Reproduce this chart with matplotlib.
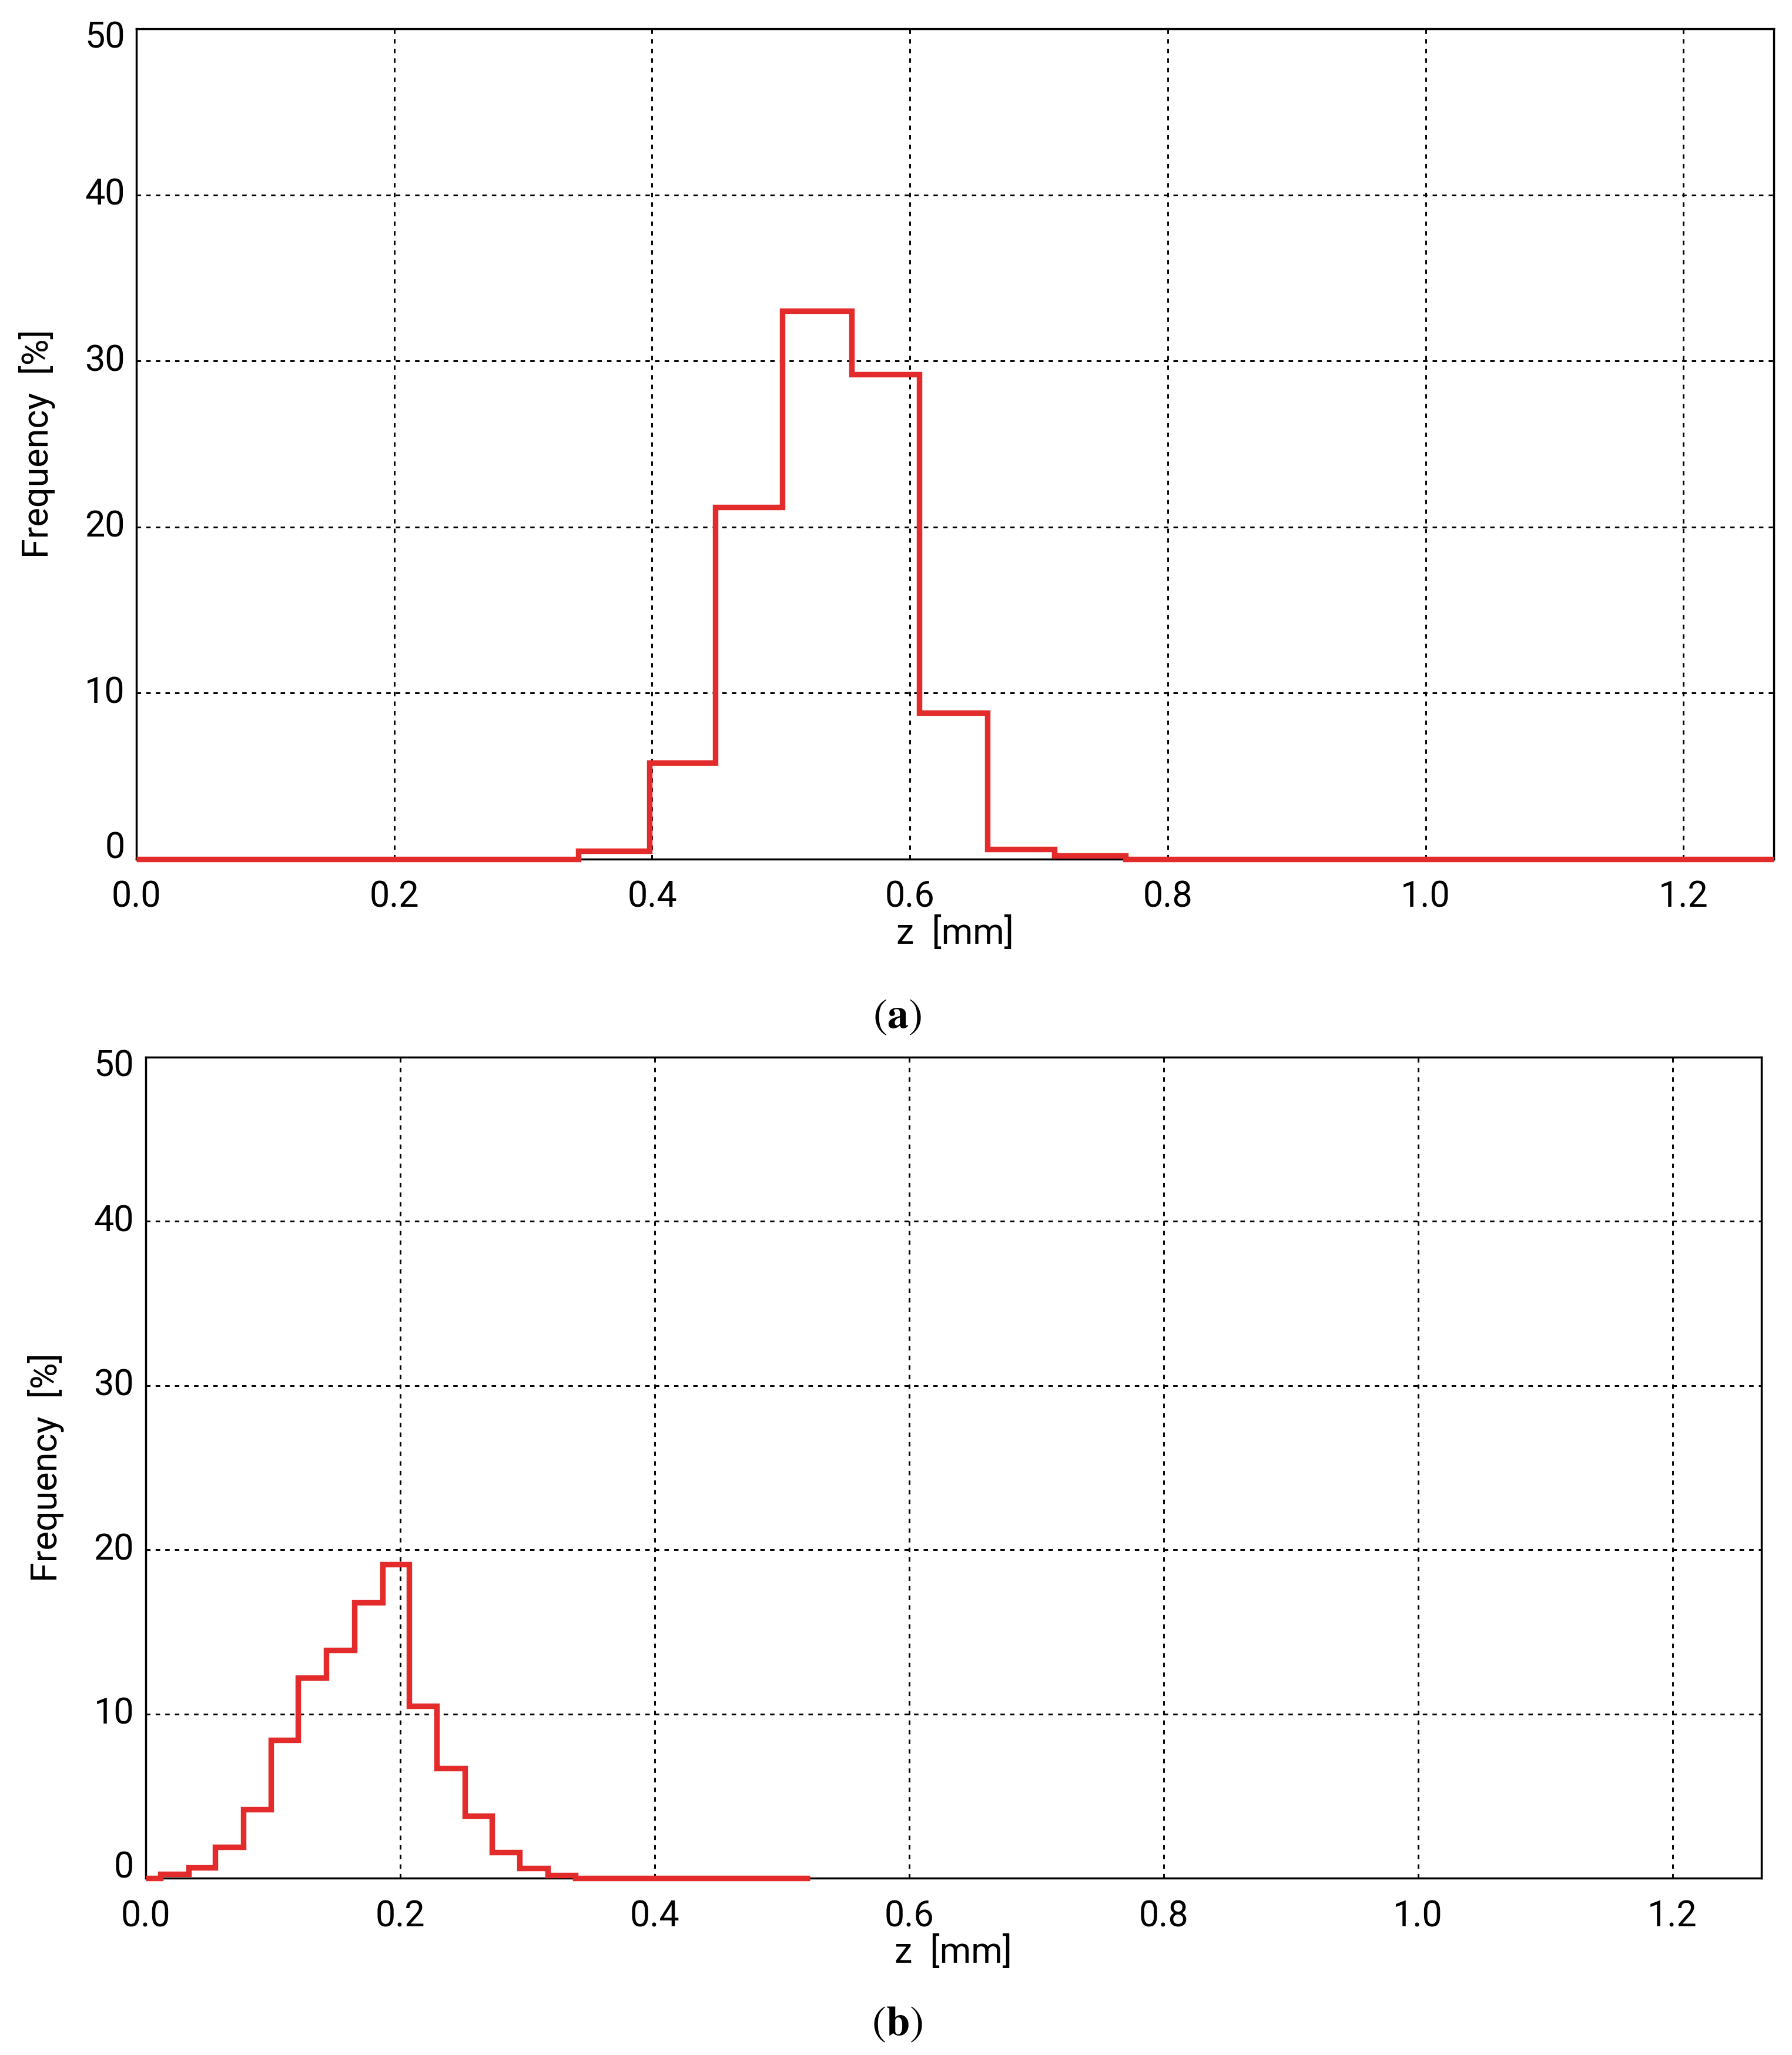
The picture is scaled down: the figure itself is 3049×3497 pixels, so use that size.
import numpy as np
import matplotlib
matplotlib.use("Agg")
import matplotlib.pyplot as plt

# panel (a): histogram of z, bin edges [mm] and frequency [%]
edges_a = [0.0, 0.343, 0.398, 0.449, 0.501, 0.555, 0.607, 0.660, 0.712, 0.767, 1.27]
freq_a = [0.0, 0.5, 5.8, 21.2, 33.0, 29.2, 8.8, 0.6, 0.2, 0.0]

# panel (b)
edges_b = [0.0, 0.0116, 0.0338, 0.0546, 0.0768, 0.0987, 0.1198, 0.1420, 0.1642, 0.1864,
           0.2072, 0.2290, 0.2510, 0.2724, 0.2940, 0.3160, 0.3380, 0.522]
freq_b = [0.0, 0.25, 0.65, 1.9, 4.2, 8.4, 12.2, 13.9, 16.8, 19.1, 10.5, 6.7, 3.8, 1.6, 0.6, 0.2, 0.0]

x_ticks = [0.0, 0.2, 0.4, 0.6, 0.8, 1.0, 1.2]
x_labels = ["0.0", "0.2", "0.4", "0.6", "0.8", "1.0", "1.2"]
y_ticks = [0, 10, 20, 30, 40, 50]

plt.rcParams['font.family'] = ['Roboto', 'DejaVu Sans']
plt.rcParams['font.size'] = 44
plt.rcParams['mathtext.fontset'] = 'stix'

RED = '#e32b2b'


def DrawPanel(fig, rect, edges, freq, ylabel_x, caption, caption_y):
	ax = fig.add_axes(rect)
	ax.stairs(freq, edges, color=RED, linewidth=6.8, zorder=4, clip_on=False)

	ax.set_xlim(0, 1.27)
	ax.set_ylim(0, 50)
	ax.set_xticks(x_ticks)
	ax.set_xticklabels(x_labels, color='black')
	ax.set_yticks(y_ticks)
	ax.tick_params(length=0, labelleft=False)
	ax.tick_params(axis='x', pad=26)

	# y tick labels, end labels nudged inside the frame as in the original
	for t in y_ticks:
		dy = 0
		if t == 0:
			dy = 13
		if t == 50:
			dy = -11
		ax.annotate(str(t), xy=(0, t), xycoords=('axes fraction', 'data'),
		            xytext=(-14, dy), textcoords='offset points', ha='right', va='center')

	ax.grid(True, color='black', linestyle=(0, (2.6, 3.0)), linewidth=2.1)
	for sp in ax.spines.values():
		sp.set_linewidth(2.5)

	ax.set_xlabel("z  [mm]")
	ax.xaxis.set_label_coords(0.5, -0.069)
	ax.set_ylabel("Frequency  [%]")
	ax.yaxis.set_label_coords(ylabel_x, 0.5)

	fig.text(0.5007, caption_y, caption, ha='center', va='center', fontsize=52)
	return ax


fig = plt.figure(figsize=(30.49, 34.97), dpi=100)
DrawPanel(fig, [0.0761, 0.582, 0.9137, 0.404], edges_a, freq_a, -0.0495, r'$(\mathbf{a})$', 0.5054)
DrawPanel(fig, [0.0812, 0.086, 0.9018, 0.3996], edges_b, freq_b, -0.0505, r'$(\mathbf{b})$', 0.0153)

fig.savefig("out.png", dpi=100, facecolor='white')
